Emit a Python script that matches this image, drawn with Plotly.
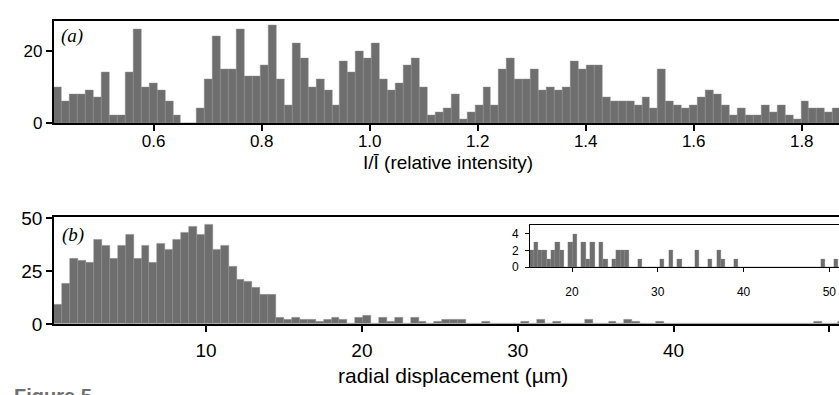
import plotly.graph_objects as go

# ---------------- data ----------------
# (a) relative intensity histogram
int_bin_start = 0.415
int_bin_width = 0.01472
int_counts = [10, 6, 8, 8, 9, 7, 14, 2, 2, 14, 26, 10, 11, 9, 6, 2, 0, 0, 4, 12,
              24, 15, 15, 26, 13, 13, 16, 27,
              12, 5, 22, 18, 10, 12, 9, 5, 17, 14, 20, 18, 22, 12, 9, 11, 16, 18,
              10, 2, 3, 4, 8, 1, 3, 5, 10, 5, 15, 18, 12, 12, 15, 9,
              10, 9, 10, 17, 15, 16, 16, 7, 6, 6, 6, 5, 7, 4, 15, 6, 5, 4, 5, 7,
              9, 8, 5, 2, 4, 2, 2, 5, 3, 5, 2, 1, 6, 4, 4, 3, 4]
int_tick_vals = [0.6, 0.8, 1.0, 1.2, 1.4, 1.6, 1.8]
int_tick_text = ["0.6", "0.8", "1.0", "1.2", "1.4", "1.6", "1.8"]
int_y_ticks = [0, 20]

# (b) radial displacement histogram (µm)
rad_bin_start = 0.27
rad_bin_width = 0.508
rad_counts = [9, 19, 31, 30, 29, 40, 37, 31, 37, 42, 31, 37, 29, 38, 35, 40, 43, 46, 42, 47,
              35, 37, 27, 21, 20, 17, 14, 14, 3,
              2, 3, 2, 2, 1, 2, 3, 2, 0, 3, 4, 0, 3, 1, 3, 0, 3, 1, 0, 1, 2,
              2, 2, 0, 0, 1, 0, 0, 0, 0, 1, 0, 2, 0, 1, 0, 0, 0, 2, 0, 0,
              1, 0, 2, 1, 0, 0, 1, 0, 0, 0, 0, 0, 0, 0, 0, 0, 0, 0, 0, 0,
              0, 0, 0, 0, 0, 0, 1, 0, 0, 1]
rad_tick_vals = [10, 20, 30, 40, 50]
rad_y_ticks = [0, 25, 50]
inset_first_bin = 29
inset_x_ticks = [20, 30, 40, 50]
inset_y_ticks = [0, 2, 4]

int_centers = [int_bin_start + (i + 0.5) * int_bin_width for i in range(len(int_counts))]
rad_centers = [rad_bin_start + (i + 0.5) * rad_bin_width for i in range(len(rad_counts))]

# ---------------- figure ----------------
W, H = 839, 395
BAR = "#6e6e6e"
EDGE = "#8a8a8a"
SANS = "Liberation Sans, Arial, sans-serif"


def px_x(p):
    return p / W


def px_y(p):
    return (H - p) / H


fig = go.Figure()
fig.add_trace(go.Bar(x=int_centers, y=int_counts, width=int_bin_width,
                     marker=dict(color=BAR, line=dict(color=EDGE, width=0.5)),
                     xaxis="x", yaxis="y", hoverinfo="x+y"))
fig.add_trace(go.Bar(x=rad_centers, y=rad_counts, width=rad_bin_width,
                     marker=dict(color=BAR, line=dict(color=EDGE, width=0.5)),
                     xaxis="x2", yaxis="y2", hoverinfo="x+y"))
fig.add_trace(go.Bar(x=rad_centers[inset_first_bin:], y=rad_counts[inset_first_bin:],
                     width=rad_bin_width,
                     marker=dict(color=BAR, line=dict(color=EDGE, width=0.3)),
                     xaxis="x3", yaxis="y3", hoverinfo="x+y"))

common = dict(showgrid=False, zeroline=False, showline=True, linecolor="black",
              ticks="outside", tickcolor="black")

fig.update_layout(
    width=W, height=H,
    margin=dict(l=0, r=0, t=0, b=0),
    paper_bgcolor="white", plot_bgcolor="rgba(0,0,0,0)",
    showlegend=False, bargap=0,
    font=dict(family=SANS, color="black"),
    xaxis=dict(**common, domain=[px_x(53.5), 1], range=[0.4145, 1.869],
               tickvals=int_tick_vals, ticktext=int_tick_text,
               ticklen=6, tickwidth=1.5, linewidth=1.5, mirror=True,
               tickfont=dict(size=17), ticklabelstandoff=-4, anchor="y"),
    yaxis=dict(**common, domain=[px_y(120), px_y(13)], range=[0, 28.2],
               tickvals=int_y_ticks, ticklen=6, tickwidth=1.5, linewidth=1.5,
               tickfont=dict(size=17), anchor="x"),
    xaxis2=dict(**common, domain=[px_x(54), 1], range=[0.24, 50.62],
                tickvals=rad_tick_vals, ticklen=6, tickwidth=1.5, linewidth=1.5,
                mirror=True, tickfont=dict(size=19), ticklabelstandoff=3,
                anchor="y2"),
    yaxis2=dict(**common, domain=[px_y(331.7), px_y(218.7)], range=[0, 50.7],
                tickvals=rad_y_ticks, ticklen=6, tickwidth=1.5, linewidth=1.5,
                tickfont=dict(size=19), anchor="x2"),
    xaxis3=dict(**common, domain=[px_x(530), 1], range=[15.1, 51.13],
                tickvals=inset_x_ticks, ticklen=4, tickwidth=1, linewidth=1,
                mirror=True, tickfont=dict(size=12), ticklabelstandoff=9,
                anchor="y3"),
    yaxis3=dict(**common, domain=[px_y(272), px_y(227.7)], range=[0, 5.06],
                tickvals=inset_y_ticks, ticklen=4, tickwidth=1, linewidth=1,
                tickfont=dict(size=12), ticklabelstandoff=4, anchor="x3"),
)

ann = [
    dict(text="I/Ī (relative intensity)", x=px_x(448), y=px_y(162),
         font=dict(size=19, family=SANS)),
    dict(text="radial displacement (µm)", x=px_x(453), y=px_y(386),
         font=dict(size=21, family=SANS)),
    dict(text="<i>(a)</i>", x=px_x(72), y=px_y(28),
         font=dict(size=19, family="Liberation Serif, Times New Roman, serif")),
    dict(text="<i>(b)</i>", x=px_x(73), y=px_y(238.5),
         font=dict(size=19, family="Liberation Serif, Times New Roman, serif")),
]
for a in ann:
    fig.add_annotation(xref="paper", yref="paper", showarrow=False,
                       xanchor="center", yanchor="middle", **a)
fig.add_annotation(text="<b>Figure 5</b>", xref="paper", yref="paper",
                   x=px_x(12), y=px_y(394), xanchor="left", yanchor="top",
                   showarrow=False, font=dict(size=20, family=SANS, color="#707070"))

fig.write_html("out.html")
